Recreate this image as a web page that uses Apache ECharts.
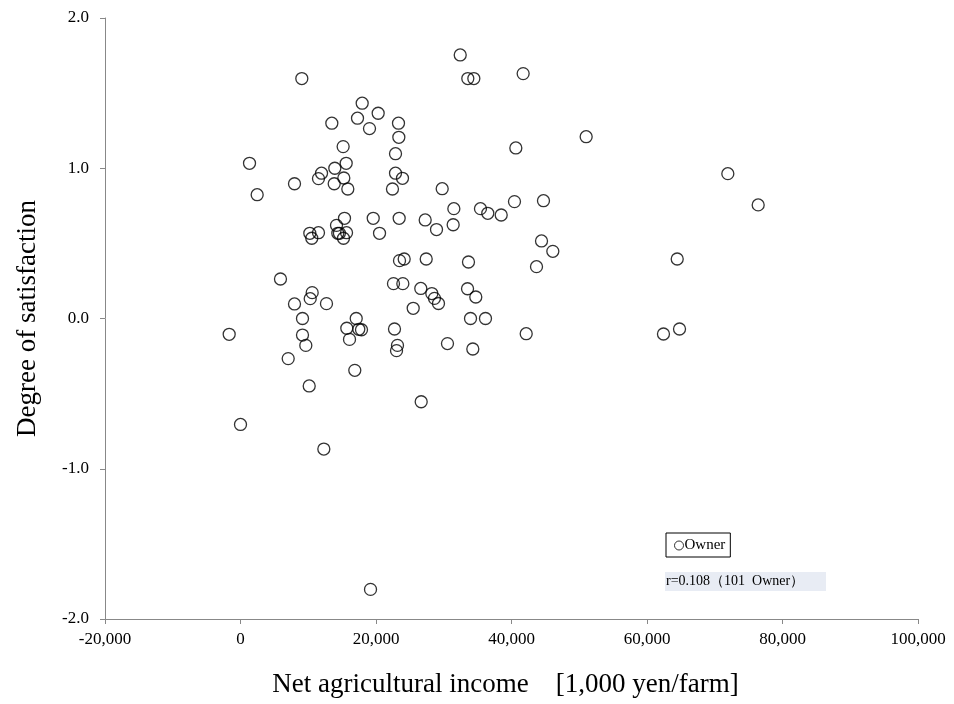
<!DOCTYPE html>
<html><head><meta charset="utf-8">
<script src="https://cdn.jsdelivr.net/npm/echarts@6/dist/echarts.min.js"></script>
<style>html,body{margin:0;padding:0;background:#fff}#c{width:954px;height:704px}</style>
</head><body><div id="c"></div>
<script>
const income = [32430,33550,34440,9050,17960,20320,17270,19040,13480,23320,23370,15150,22880,1330,15600,11960,11510,13920,15250,13830,15840,22880,23910,22430,7970,2460,29770,31490,35420,36500,38480,15350,19590,23420,27260,31390,28930,14170,10230,11510,10520,14360,14600,15650,15200,20520,23470,24160,27410,33650,5900,22580,23960,26610,28240,28630,29220,25490,33510,34730,10580,10290,7970,12690,9150,17080,15690,17460,17860,22730,-1670,9150,16090,9640,23170,23030,30550,34290,33950,36160,7040,16870,10140,26670,0,12300,19190,41720,51020,40640,40440,44720,44430,46100,43690,42170,71930,76410,64460,62430,64800];
const satisfaction = [1.754,1.597,1.597,1.597,1.433,1.366,1.333,1.264,1.300,1.300,1.206,1.144,1.097,1.033,1.033,0.967,0.931,1.000,0.935,0.897,0.862,0.967,0.933,0.862,0.897,0.824,0.864,0.731,0.731,0.700,0.689,0.667,0.667,0.667,0.656,0.624,0.592,0.620,0.567,0.571,0.534,0.567,0.567,0.571,0.534,0.567,0.385,0.396,0.396,0.376,0.263,0.232,0.232,0.200,0.166,0.134,0.100,0.068,0.198,0.143,0.172,0.132,0.097,0.099,0.0,0.0,-0.065,-0.072,-0.075,-0.070,-0.105,-0.110,-0.139,-0.179,-0.179,-0.214,-0.167,-0.203,0.0,0.0,-0.267,-0.345,-0.449,-0.554,-0.705,-0.869,-1.803,1.630,1.210,1.135,0.778,0.784,0.516,0.447,0.345,-0.101,0.964,0.756,0.396,-0.103,-0.070];
const seriesName = 'Owner';
const xTitle = 'Net agricultural income\u3000[1,000 yen/farm]';
const yTitle = 'Degree of satisfaction';
const note = 'r=0.108\uFF08101  Owner\uFF09';

const chart = echarts.init(document.getElementById('c'));
const font = '"Liberation Serif","Times New Roman",serif';
chart.setOption({
  animation: false,
  backgroundColor: '#fff',
  textStyle: { fontFamily: font },
  grid: { left: 105, right: 36, top: 18, bottom: 85, containLabel: false },
  xAxis: {
    type: 'value', min: -20000, max: 100000, interval: 20000,
    name: xTitle, nameLocation: 'middle', nameGap: 52,
    nameTextStyle: { fontFamily: font, fontSize: 27, color: '#000', padding: [0, 12, 0, 0] },
    axisLine: { show: true, onZero: false, lineStyle: { color: '#888', width: 1 } },
    axisTick: { show: true, length: 5, lineStyle: { color: '#888' } },
    axisLabel: { fontFamily: font, fontSize: 17, color: '#000', margin: 12,
      formatter: v => v.toLocaleString('en-US') },
    splitLine: { show: false }
  },
  yAxis: {
    type: 'value', min: -2, max: 2, interval: 1,
    name: yTitle, nameLocation: 'middle', nameGap: 64, nameRotate: 90,
    nameTextStyle: { fontFamily: font, fontSize: 27, color: '#000' },
    axisLine: { show: true, onZero: false, lineStyle: { color: '#888', width: 1 } },
    axisTick: { show: true, length: 5, lineStyle: { color: '#888' } },
    axisLabel: { fontFamily: font, fontSize: 17, color: '#000', margin: 16,
      formatter: v => v.toFixed(1) },
    splitLine: { show: false }
  },
  legend: {
    data: [seriesName], left: 666, top: 533, orient: 'horizontal',
    borderColor: '#000', borderWidth: 1, padding: [5, 5, 4, 8],
    itemWidth: 9, itemHeight: 9, itemGap: 2,
    itemStyle: { borderWidth: 1 },
    textStyle: { fontFamily: font, fontSize: 15, color: '#000', padding: [0,0,0,-4] },
    icon: 'circle'
  },
  graphic: [
    { type: 'rect', left: 665, top: 572, shape: { width: 161, height: 19 },
      style: { fill: '#e8ecf4' }, silent: true },
    { type: 'text', left: 666, top: 574,
      style: { text: note, font: '14px ' + font, fill: '#000' } }
  ],
  series: [{
    name: seriesName, type: 'scatter',
    data: income.map((x, i) => [x, satisfaction[i]]),
    symbol: 'circle', symbolSize: 12,
    itemStyle: { color: 'rgba(255,255,255,0)', borderColor: '#000', borderWidth: 1.3 }
  }]
});
</script></body></html>
